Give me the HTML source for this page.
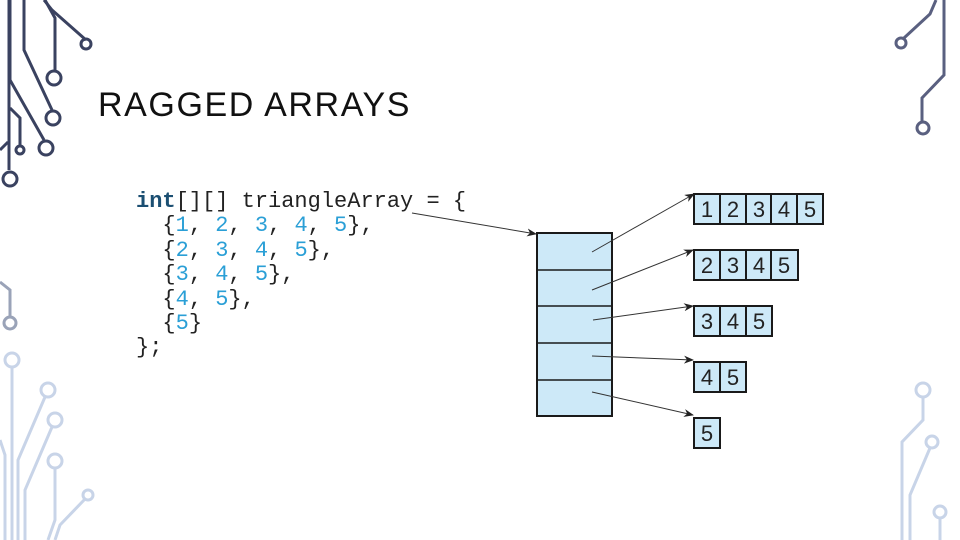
<!DOCTYPE html>
<html><head><style>
body{margin:0;width:960px;height:540px;background:#fff;overflow:hidden;position:relative;font-family:"Liberation Sans",sans-serif}
h1{position:absolute;left:98px;top:86px;margin:0;font-weight:normal;font-size:34px;color:#111;letter-spacing:1.6px}
pre{position:absolute;left:136px;top:190px;margin:0;font-family:"Liberation Mono",monospace;font-size:22px;line-height:24.4px;color:#222}
.b{color:#2a9fd6}.k{color:#1b4f72;font-weight:bold}
</style></head><body>
<svg width="960" height="540" style="position:absolute;left:0;top:0">
<defs><marker id="a" markerWidth="10" markerHeight="8" refX="9" refY="4" orient="auto" markerUnits="userSpaceOnUse"><path d="M0,0L10,4L0,8L3,4z" fill="#222"/></marker></defs>
<g fill="none" stroke-width="3">
<g stroke="#3a4260">
<path d="M44,0 L52,10 L86,40"/><circle cx="86" cy="44" r="5"/>
<path d="M45,0 L55,18 L55,70"/><circle cx="54" cy="78" r="7"/>
<path d="M24,0 L24,50 L52,110"/><circle cx="53" cy="118" r="7"/>
<path d="M10,0 L10,80 L44,140"/><circle cx="46" cy="148" r="7"/>
<path d="M9,0 L9,170"/><circle cx="10" cy="179" r="7"/>
<path d="M10,108 L20,118 L20,145"/><circle cx="20" cy="150" r="4"/>
<path d="M0,150 L8,142"/>
</g>
<g stroke="#5a6080">
<path d="M936,0 L930,14 L904,38"/><circle cx="901" cy="43" r="5"/>
<path d="M944,0 L944,75 L922,98 L922,122"/><circle cx="923" cy="128" r="6"/>
</g>
<g stroke="#9aa3b8">
<path d="M0,282 L10,290 L10,318"/><circle cx="10" cy="323" r="6"/>
</g>
<g stroke="#c8d4e8">
<circle cx="12" cy="360" r="7"/><path d="M12,367 L12,540"/>
<circle cx="48" cy="390" r="7"/><path d="M45,397 L18,460 L18,540"/>
<circle cx="55" cy="420" r="7"/><path d="M52,427 L25,490 L25,540"/>
<circle cx="55" cy="461" r="7"/><path d="M55,468 L55,520 L48,540"/>
<circle cx="88" cy="495" r="5"/><path d="M85,499 L60,525 L55,540"/>
<path d="M0,440 L5,455 L5,540"/>
<circle cx="923" cy="390" r="7"/><path d="M923,397 L923,420 L902,442 L902,540"/>
<circle cx="932" cy="442" r="6"/><path d="M930,448 L910,495 L910,540"/>
<circle cx="940" cy="512" r="6"/><path d="M940,518 L940,540"/>
</g>
</g>
<g stroke="#1a1a1a" stroke-width="2" fill="#cde9f8">
<rect x="537" y="233" width="75" height="183"/>
<path d="M537,270H612M537,306H612M537,343H612M537,380H612" fill="none" stroke-width="1.5"/>
<rect x="694" y="194" width="129" height="30"/>
<path d="M720,194V224M746,194V224M771,194V224M797,194V224"/>
<rect x="694" y="250" width="104" height="30"/>
<path d="M720,250V280M746,250V280M771,250V280"/>
<rect x="694" y="306" width="78" height="30"/>
<path d="M720,306V336M746,306V336"/>
<rect x="694" y="362" width="52" height="30"/>
<path d="M720,362V392"/>
<rect x="694" y="418" width="26" height="30"/>
</g>
<g stroke="#333" stroke-width="1" marker-end="url(#a)">
<line x1="412" y1="213" x2="536" y2="234"/>
<line x1="592" y1="252" x2="694" y2="194"/>
<line x1="592" y1="290" x2="693" y2="250"/>
<line x1="593" y1="320" x2="693" y2="306"/>
<line x1="592" y1="356" x2="693" y2="360"/>
<line x1="592" y1="392" x2="693" y2="415"/>
</g>
<g font-family="Liberation Sans,sans-serif" font-size="22" fill="#222" text-anchor="middle">
<text x="707" y="217">1</text><text x="733" y="217">2</text><text x="759" y="217">3</text><text x="784" y="217">4</text><text x="810" y="217">5</text>
<text x="707" y="273">2</text><text x="733" y="273">3</text><text x="759" y="273">4</text><text x="784" y="273">5</text>
<text x="707" y="329">3</text><text x="733" y="329">4</text><text x="759" y="329">5</text>
<text x="707" y="385">4</text><text x="733" y="385">5</text>
<text x="707" y="441">5</text>
</g>
</svg>
<h1>RAGGED ARRAYS</h1>
<pre><span class="k">int</span>[][] triangleArray = {
  {<span class="b">1</span>, <span class="b">2</span>, <span class="b">3</span>, <span class="b">4</span>, <span class="b">5</span>},
  {<span class="b">2</span>, <span class="b">3</span>, <span class="b">4</span>, <span class="b">5</span>},
  {<span class="b">3</span>, <span class="b">4</span>, <span class="b">5</span>},
  {<span class="b">4</span>, <span class="b">5</span>},
  {<span class="b">5</span>}
};</pre>
</body></html>
